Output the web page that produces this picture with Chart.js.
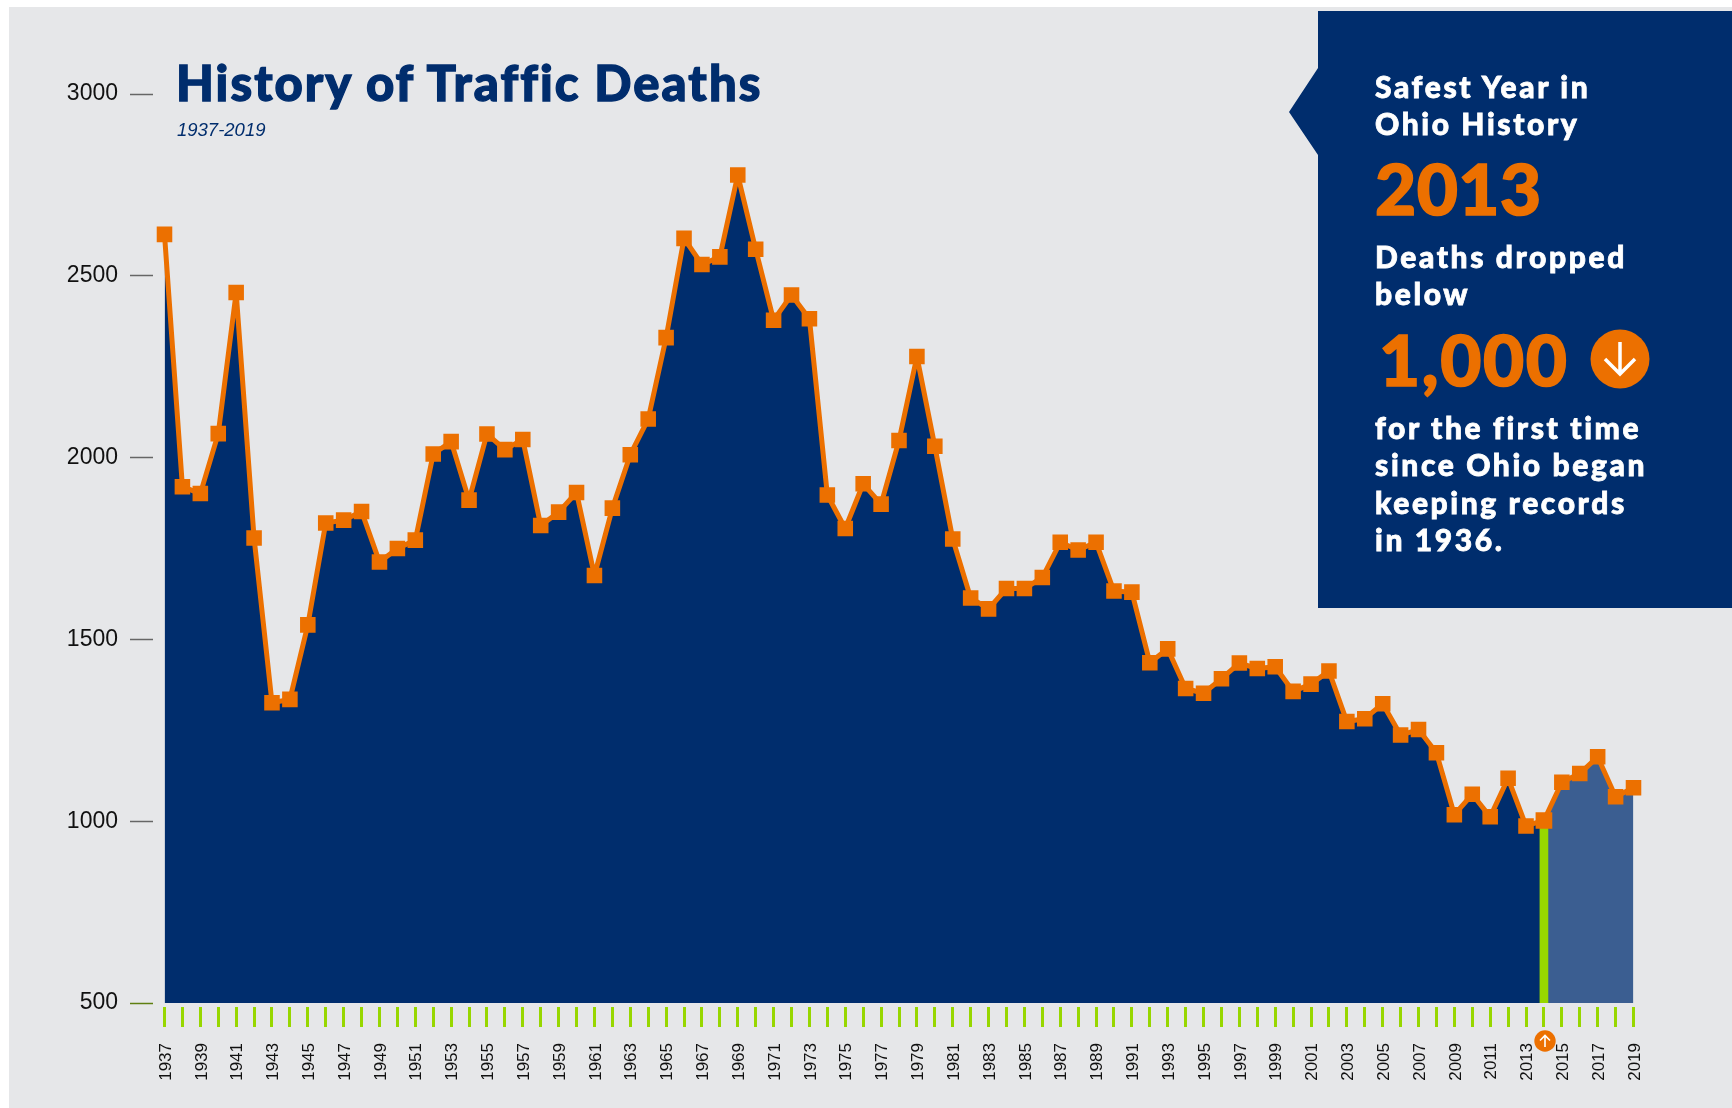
<!DOCTYPE html>
<html><head><meta charset="utf-8">
<script src="https://cdn.jsdelivr.net/npm/chart.js@4"></script>
<style>
html,body{margin:0;padding:0;background:#fff;width:1732px;height:1108px;overflow:hidden}
#panel{position:absolute;left:9px;top:7px;width:1723px;height:1101px;background:#e6e7e9}
canvas{position:absolute;left:0;top:0}
.t{position:absolute;white-space:nowrap;font-family:Lato,sans-serif;line-height:1}
#title{left:176px;top:58px;font-size:49px;font-weight:900;color:#002d6d;letter-spacing:2.05px;-webkit-text-stroke:1.3px #002d6d}
#sub{left:177px;top:121px;font-family:"Liberation Sans",sans-serif;font-style:italic;font-size:18.5px;color:#002d6d}
#box{position:absolute;left:1289px;top:11px;width:443px;height:597px;background:#002d6d;
 clip-path:polygon(29px 0,443px 0,443px 597px,29px 597px,29px 144px,0 101px,29px 57px)}
.w{color:#fff;font-size:30px;font-weight:900;letter-spacing:2.6px;left:1375px;-webkit-text-stroke:.8px #fff}
.o{color:#ec7000;font-size:71px;font-weight:900;-webkit-text-stroke:1.6px #ec7000}
svg{position:absolute}
</style></head><body>
<div id="panel"></div>
<canvas id="c" width="1732" height="1108"></canvas>
<div class="t" id="title">History of Traffic Deaths</div>
<div class="t" id="sub">1937-2019</div>
<div id="box"></div>
<div class="t w" style="top:71px">Safest Year in</div>
<div class="t w" style="top:108px">Ohio History</div>
<div class="t o" style="left:1375px;top:152px;letter-spacing:.5px">2013</div>
<div class="t w" style="top:241px">Deaths dropped</div>
<div class="t w" style="top:278px">below</div>
<div class="t o" style="left:1379px;top:323px;letter-spacing:1.6px">1,000</div>
<div class="t w" style="top:412px">for the first time</div>
<div class="t w" style="top:449px">since Ohio began</div>
<div class="t w" style="top:487px">keeping records</div>
<div class="t w" style="top:524px">in 1936.</div>
<svg style="left:1590px;top:329px" width="60" height="60"><circle cx="30" cy="30" r="29.5" fill="#ec7000"/><path d="M30 13V45M15 30L30 45L45 30" fill="none" stroke="#fff" stroke-width="3.5"/></svg>
<svg style="left:1534px;top:1030px" width="22" height="22"><circle cx="11" cy="11" r="10.7" fill="#ec7000"/><path d="M11 17V5.5M6 10.5L11 5.5L16 10.5" fill="none" stroke="#fff" stroke-width="1.6"/></svg>
<script>
const years=[1937,1938,1939,1940,1941,1942,1943,1944,1945,1946,1947,1948,1949,1950,1951,1952,1953,1954,1955,1956,1957,1958,1959,1960,1961,1962,1963,1964,1965,1966,1967,1968,1969,1970,1971,1972,1973,1974,1975,1976,1977,1978,1979,1980,1981,1982,1983,1984,1985,1986,1987,1988,1989,1990,1991,1992,1993,1994,1995,1996,1997,1998,1999,2000,2001,2002,2003,2004,2005,2006,2007,2008,2009,2010,2011,2012,2013,2014,2015,2016,2017,2018,2019];
const deaths=[2614,1920,1901,2066,2454,1779,1326,1335,1540,1820,1828,1852,1713,1750,1773,2010,2044,1883,2065,2022,2050,1813,1850,1904,1676,1861,2008,2106,2330,2603,2531,2552,2777,2573,2378,2447,2382,1897,1805,1928,1872,2047,2278,2031,1776,1614,1584,1640,1640,1670,1767,1746,1767,1633,1630,1436,1474,1365,1352,1392,1435,1420,1425,1357,1377,1413,1274,1282,1323,1237,1252,1188,1018,1074,1012,1118,987,1002,1107,1131,1177,1067,1092];
const highlightYear=2014;
const navy='#002d6d',lightNavy='#3b5e91',orange='#ec7000',lime='#97d700';
const upTo=deaths.map((v,i)=>years[i]<=highlightYear?v:null);
const after=deaths.map((v,i)=>years[i]>=highlightYear?v:null);
const bar=deaths.map((v,i)=>years[i]===highlightYear?v:null);
new Chart(document.getElementById('c'),{
 type:'line',
 data:{labels:years.map(String),datasets:[
  {data:upTo,fill:'start',backgroundColor:navy,borderWidth:0,pointRadius:0,order:5},
  {data:after,fill:'start',backgroundColor:lightNavy,borderWidth:0,pointRadius:0,order:4},
  {type:'bar',data:bar,backgroundColor:lime,barThickness:8,order:3},
  {data:deaths,fill:false,borderColor:orange,borderWidth:5,tension:0,borderJoinStyle:'bevel',
   pointStyle:'rect',pointBackgroundColor:orange,pointBorderWidth:0,
   pointRadius:c=>years[c.dataIndex]===highlightYear?11.8:11,order:1}
 ]},
 options:{responsive:false,animation:false,
  layout:{padding:{left:0,right:98.5,top:94,bottom:0}},
  plugins:{legend:{display:false},tooltip:{enabled:false}},
  scales:{
   x:{offset:false,border:{display:false},
    afterFit:s=>{s.height=105},
    grid:{offset:false,drawOnChartArea:false,tickLength:24,tickColor:lime,tickWidth:3,tickBorderDash:[0,4,20,999]},
    ticks:{autoSkip:false,minRotation:90,maxRotation:90,padding:16,labelOffset:1.5,color:'#111',
     font:{family:'"Liberation Sans Narrow","Liberation Sans"',size:17},
     callback:(v,i)=>i%2===0?String(years[i]):''}},
   y:{min:500,max:3000,border:{display:false},
    afterFit:s=>{s.width=164.5},
    grid:{drawOnChartArea:false,tickLength:34.5,tickWidth:1.5,
     tickColor:c=>c.tick&&c.tick.value===500?'#5f7f10':'#666',tickBorderDash:[23,999]},
    ticks:{stepSize:500,padding:12,color:'#111',font:{family:'"Liberation Sans"',size:23},
     callback:v=>String(v)}}
  }}
});
</script>
</body></html>
